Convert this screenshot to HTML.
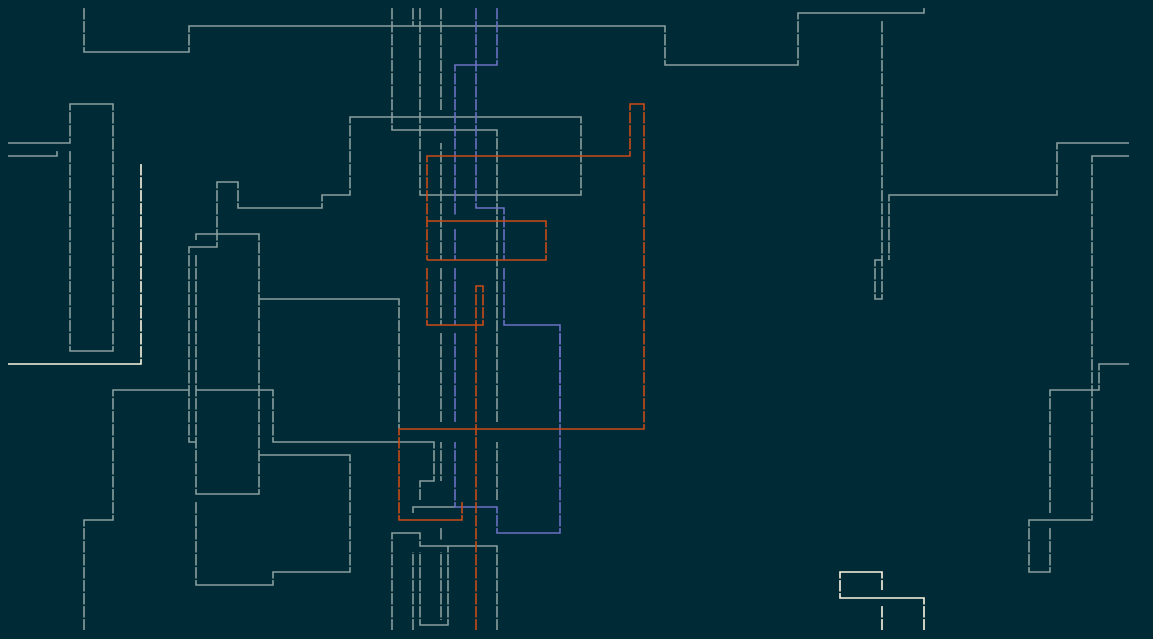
<!DOCTYPE html>
<html><head><meta charset="utf-8"><style>
html,body{margin:0;padding:0;background:#002b36;}
svg{display:block;}
</style></head><body>
<svg width="1153" height="639" viewBox="0 0 1153 639" xmlns="http://www.w3.org/2000/svg">
<defs>
<pattern id="gap" x="0" y="0" width="1153" height="13" patternUnits="userSpaceOnUse">
<rect x="0" y="6.5" width="1153" height="1.6" fill="#002b36"/>
</pattern>
</defs>
<rect width="1153" height="639" fill="#002b36"/>
<g fill="none" stroke-width="1.6" stroke-linejoin="miter">
<!-- gray bright -->
<g stroke="#8a9e9e">
<polyline points="84,8 84,52 189,52 189,26 665,26 665,65 798,65 798,13 924,13 924,8"/>
<polyline points="392,8 392,130 497,130 497,422"/>
<polyline points="420,8 420,195 581,195 581,117 350,117 350,195 322,195 322,208 238,208 238,182 217,182 217,247 189,247 189,442 196,442 196,494 259,494 259,234 196,234 196,240"/>
<line x1="196" y1="255" x2="196" y2="442"/>
<polyline points="8,143 70,143 70,104 113,104 113,351 70,351 70,150"/>
<polyline points="8,156 57,156 57,151"/>
<polyline points="259,299 399,299 399,429"/>
<polyline points="84,630 84,520 113,520 113,390 189,390"/>
<polyline points="196,390 273,390 273,442 434,442 434,481 420,481 420,500"/>
<polyline points="196,502 196,585 273,585 273,572 350,572 350,455 259,455"/>
<line x1="441" y1="8" x2="441" y2="110"/>
<line x1="441" y1="143" x2="441" y2="260"/>
<line x1="441" y1="268" x2="441" y2="325"/>
<line x1="441" y1="333" x2="441" y2="422"/>
<line x1="441" y1="442" x2="441" y2="481"/>
<line x1="441" y1="527" x2="441" y2="540"/>
<line x1="413" y1="8" x2="413" y2="26"/>
<polyline points="413,513 413,507 455,507"/>
<line x1="497" y1="442" x2="497" y2="500"/>
<polyline points="392,630 392,533 420,533 420,546 497,546 497,630"/>
<polyline points="413,552 413,630"/>
<polyline points="420,552 420,625 448,625 448,546"/>
<line x1="441" y1="552" x2="441" y2="620"/>
<polyline points="882,21 882,260 875,260 875,299 882,299 882,260"/>
<polyline points="889,260 889,195 1057,195 1057,143 1129,143"/>
<polyline points="1129,156 1092,156 1092,520 1029,520 1029,572 1050,572 1050,528"/>
<polyline points="1129,364 1099,364 1099,390 1050,390 1050,513"/>
</g>
<!-- blue -->
<g stroke="#6c71c4">
<polyline points="497,8 497,65 455,65 455,215"/>
<line x1="455" y1="229" x2="455" y2="260"/>
<line x1="455" y1="268" x2="455" y2="325"/>
<line x1="455" y1="333" x2="455" y2="422"/>
<polyline points="455,442 455,507 497,507 497,533 560,533 560,333"/>
<polyline points="476,8 476,208 504,208 504,260"/>
<polyline points="504,268 504,325 560,325 560,422"/>
</g>
<!-- orange -->
<g stroke="#cb4b16">
<polyline points="427,260 427,156 630,156 630,104 644,104 644,429 399,429 399,520 462,520 462,502"/>
<polyline points="427,221 546,221 546,260 427,260"/>
<polyline points="427,268 427,325 483,325 483,286 476,286 476,630"/>
</g>
<!-- white -->
<g stroke="#fdf6e3">
<polyline points="141,164 141,364 8,364"/>
<polyline points="882,590 882,572 840,572 840,598 924,598 924,630"/>
<line x1="882" y1="605" x2="882" y2="630"/>
</g>
</g>
<rect width="1153" height="639" fill="url(#gap)"/>
</svg>
</body></html>
